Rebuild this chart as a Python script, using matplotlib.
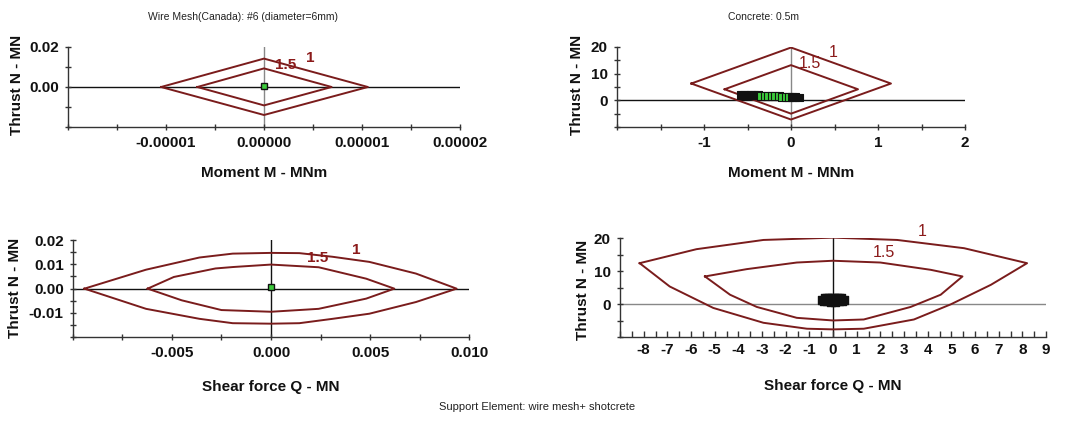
import numpy as np
import matplotlib
matplotlib.use("Agg")
import matplotlib.pyplot as plt

plt.rcParams['font.family'] = ['Liberation Sans', 'DejaVu Sans']

LINE = '#7a1c1c'
LBL = '#8b1a1a'
GREEN = '#3ccc3c'

# ---------- Panel 1: wire mesh, Moment vs Thrust ----------
mesh_m_outer = [-0.0000105, 0.0, 0.0000106, 0.0, -0.0000105]
mesh_n_outer = [0.0, 0.0142, 0.0, -0.0140, 0.0]
mesh_m_inner = [-0.0000068, 0.0, 0.0000069, 0.0, -0.0000068]
mesh_n_inner = [0.0, 0.0093, 0.0, -0.0092, 0.0]
mesh_pt_m = [0.0]
mesh_pt_n = [0.0006]

# ---------- Panel 2: concrete, Moment vs Thrust ----------
conc_m_outer = [-1.146, 0.0, 1.149, 0.0, -1.146]
conc_n_outer = [6.3, 19.8, 6.3, -7.2, 6.3]
conc_m_inner = [-0.763, 0.0, 0.77, 0.0, -0.763]
conc_n_inner = [4.15, 13.2, 4.15, -5.0, 4.15]
conc_pt_m = [-0.58, -0.54, -0.50, -0.46, -0.42, -0.38,
             -0.34, -0.30, -0.26, -0.22, -0.18, -0.14, -0.10, -0.06, -0.02,
             0.01, 0.05, 0.09]
conc_pt_n = [2.1, 2.05, 2.0, 1.95, 1.9, 1.85,
             1.75, 1.7, 1.65, 1.6, 1.55, 1.5, 1.4, 1.35, 1.3,
             1.2, 1.1, 1.05]
conc_pt_green = [False] * 6 + [True] * 9 + [False] * 3

# ---------- Panel 3: wire mesh, Shear vs Thrust ----------
mesh_q_outer = [-0.00941, -0.0063, -0.00361, -0.00193, 0.0, 0.00143, 0.00311, 0.00496, 0.00731, 0.00936,
                0.00731, 0.00496, 0.00311, 0.00143, 0.0, -0.00193, -0.00361, -0.0063, -0.00941]
mesh_n2_outer = [0.0, 0.0078, 0.0128, 0.0144, 0.0147, 0.0146, 0.0131, 0.011, 0.0062, 0.0,
                 -0.0055, -0.0103, -0.0124, -0.0142, -0.0144, -0.0142, -0.0124, -0.0083, 0.0]
mesh_q_inner = [-0.00622, -0.0049, -0.0028, -0.0019, 0.0, 0.0024, 0.0048, 0.00622,
                0.0048, 0.0024, 0.0, -0.0025, -0.0045, -0.00622]
mesh_n2_inner = [0.0, 0.0048, 0.0083, 0.0089, 0.0099, 0.0088, 0.0041, 0.0,
                 -0.0041, -0.0083, -0.0095, -0.0088, -0.0048, 0.0]
mesh_pt_q = [0.0]
mesh_pt_n2 = [0.0008]

# ---------- Panel 4: concrete, Shear vs Thrust ----------
conc_q_outer = [-8.17, -5.77, -2.94, 0.0, 2.71, 5.54, 8.2,
                6.67, 4.98, 3.42, 1.3, 0.0, -1.1, -2.94, -5.06, -6.9, -8.17]
conc_n2_outer = [12.46, 16.7, 19.5, 20.2, 19.5, 17.0, 12.46,
                 5.9, 0.0, -4.6, -7.4, -7.6, -7.4, -5.6, -1.1, 5.4, 12.46]
conc_q_inner = [-5.41, -3.65, -1.53, 0.0, 2.0, 4.13, 5.47,
                4.55, 3.28, 1.3, 0.0, -1.53, -3.22, -4.35, -5.41]
conc_n2_inner = [8.44, 10.65, 12.66, 13.2, 12.66, 10.45, 8.44,
                 2.9, -0.8, -4.6, -4.9, -4.1, -0.8, 2.9, 8.44]
conc_pt_q = [-0.45, -0.35, -0.25, -0.15, -0.05, 0.05, 0.15, 0.25, 0.35, 0.45,
             -0.40, -0.25, -0.1, 0.1, 0.25, 0.40]
conc_pt_n2 = [1.3, 1.8, 2.0, 2.0, 2.0, 2.0, 2.0, 2.0, 1.8, 1.3,
              0.9, 0.9, 0.7, 0.7, 0.9, 0.9]

W, H = 1065, 441
fig = plt.figure(figsize=(W / 100, H / 100), dpi=100)


def px_axes(l, r, t, b):
    return fig.add_axes([l / W, 1 - b / H, (r - l) / W, (b - t) / H])


def style(ax, xlim, ylim, xticks, xlabels, yticks, ylabels, xlabel, ylabel,
          ylab_x, ylab_y, xlab_y, hcol, vcol):
    ax.set_xlim(*xlim)
    ax.set_ylim(*ylim)
    ax.spines['top'].set_visible(False)
    ax.spines['right'].set_visible(False)
    for s in ('left', 'bottom'):
        ax.spines[s].set_linewidth(1.0)
        ax.spines[s].set_color('#333333')
    ax.set_xticks(xticks)
    ax.set_xticklabels(xlabels)
    ax.set_yticks(yticks)
    ax.set_yticklabels(ylabels)
    ax.tick_params(axis='both', direction='inout', length=5, width=1,
                   labelsize=11, colors='#333333', labelcolor='#111111', pad=4)
    for lab in ax.get_xticklabels() + ax.get_yticklabels():
        lab.set_fontweight('bold')
    ax.set_xlabel(xlabel, fontsize=11, fontweight='bold', color='#111111')
    ax.set_ylabel(ylabel, fontsize=11, fontweight='bold', color='#111111')
    ax.xaxis.set_label_coords(0.5, xlab_y)
    ax.xaxis.label.set_va('center')
    ax.yaxis.set_label_coords(ylab_x, ylab_y)
    ax.yaxis.label.set_va('center')
    ax.axhline(0, color=hcol, lw=1.0, zorder=1)
    ax.axvline(0, color=vcol, lw=1.0, zorder=1)
    ax.patch.set_alpha(0)


# Panel 1
ax1 = px_axes(68, 460, 47, 127)
style(ax1, (-0.00002, 0.00002), (-0.02, 0.02),
      np.arange(-0.00002, 0.0000201, 0.000005),
      ['', '', '-0.00001', '', '0.00000', '', '0.00001', '', '0.00002'],
      [-0.02, -0.01, 0.0, 0.01, 0.02], ['', '', '0.00', '', '0.02'],
      'Moment M - MNm', 'Thrust N - MN', -0.13, 0.52, -0.575, '#111111', '#888888')
ax1.plot(mesh_m_outer, mesh_n_outer, color=LINE, lw=1.4, zorder=2)
ax1.plot(mesh_m_inner, mesh_n_inner, color=LINE, lw=1.4, zorder=2)
ax1.plot(mesh_pt_m, mesh_pt_n, 's', ms=5, mfc=GREEN, mec='#111111', mew=1, zorder=3)
ax1.text(0.0000022, 0.011, '1.5', color=LBL, fontsize=11, fontweight='bold', ha='center', va='center')
ax1.text(0.0000047, 0.0145, '1', color=LBL, fontsize=11, fontweight='bold', ha='center', va='center')

# Panel 2
ax2 = px_axes(617, 965, 47, 127)
style(ax2, (-2, 2), (-10, 20),
      np.arange(-2, 2.01, 0.5),
      ['', '', '-1', '', '0', '', '1', '', '2'],
      [-10, -5, 0, 5, 10, 15, 20], ['', '', '0', '', '10', '', '20'],
      'Moment M - MNm', 'Thrust N - MN', -0.116, 0.52, -0.58, '#111111', '#888888')
ax2.plot(conc_m_outer, conc_n_outer, color=LINE, lw=1.4, zorder=2)
ax2.plot(conc_m_inner, conc_n_inner, color=LINE, lw=1.4, zorder=2)
cols = [GREEN if g else '#111111' for g in conc_pt_green]
ax2.scatter(conc_pt_m, conc_pt_n, marker='s', s=32, c=cols, edgecolors='#111111', linewidths=0.8, zorder=3)
ax2.text(0.22, 13.8, '1.5', color=LBL, fontsize=11.5, ha='center', va='center')
ax2.text(0.49, 17.8, '1', color=LBL, fontsize=11.5, ha='center', va='center')

# Panel 3
ax3 = px_axes(72.7, 469.3, 240, 337.3)
style(ax3, (-0.01, 0.01), (-0.02, 0.02),
      np.arange(-0.01, 0.01001, 0.0025),
      ['', '', '-0.005', '', '0.000', '', '0.005', '', '0.010'],
      np.arange(-0.02, 0.02001, 0.005),
      ['', '', '-0.01', '', '0.00', '', '0.01', '', '0.02'],
      'Shear force Q - MN', 'Thrust N - MN', -0.145, 0.507, -0.51, '#111111', '#111111')
ax3.plot(mesh_q_outer, mesh_n2_outer, color=LINE, lw=1.4, zorder=2)
ax3.plot(mesh_q_inner, mesh_n2_inner, color=LINE, lw=1.4, zorder=2)
ax3.plot(mesh_pt_q, mesh_pt_n2, 's', ms=5, mfc=GREEN, mec='#111111', mew=1, zorder=3)
ax3.text(0.00235, 0.0124, '1.5', color=LBL, fontsize=11, fontweight='bold', ha='center', va='center')
ax3.text(0.0043, 0.0158, '1', color=LBL, fontsize=11, fontweight='bold', ha='center', va='center')

# Panel 4
ax4 = px_axes(620, 1046, 238.3, 337.3)
xt4 = np.arange(-9, 9.01, 0.5)
xl4 = []
for v in xt4:
    if abs(v - round(v)) < 1e-9 and round(v) != -9:
        xl4.append(str(int(round(v))))
    else:
        xl4.append('')
style(ax4, (-9, 9), (-10, 20), xt4, xl4,
      [-10, -5, 0, 5, 10, 15, 20], ['', '', '0', '', '10', '', '20'],
      'Shear force Q - MN', 'Thrust N - MN', -0.087, 0.48, -0.49, '#888888', '#111111')
ax4.tick_params(axis='x', direction='in', length=4)
ax4.plot(conc_q_outer, conc_n2_outer, color=LINE, lw=1.4, zorder=2)
ax4.plot(conc_q_inner, conc_n2_inner, color=LINE, lw=1.4, zorder=2)
ax4.scatter(conc_pt_q, conc_pt_n2, marker='s', s=30, c='#111111', edgecolors='#111111', zorder=3)
ax4.text(2.15, 15.7, '1.5', color=LBL, fontsize=11.5, ha='center', va='center')
ax4.text(3.77, 22.0, '1', color=LBL, fontsize=11.5, ha='center', va='center', clip_on=False)

# Titles and footer
fig.text(243 / W, 1 - 17 / H, 'Wire Mesh(Canada): #6 (diameter=6mm)', fontsize=7.5,
         ha='center', va='center', color='#222222')
fig.text(763 / W, 1 - 17 / H, 'Concrete: 0.5m', fontsize=7.5,
         ha='center', va='center', color='#222222')
fig.text(537 / W, 1 - 407 / H, 'Support Element: wire mesh+ shotcrete', fontsize=8,
         ha='center', va='center', color='#222222')

fig.savefig('out.png', dpi=100)
